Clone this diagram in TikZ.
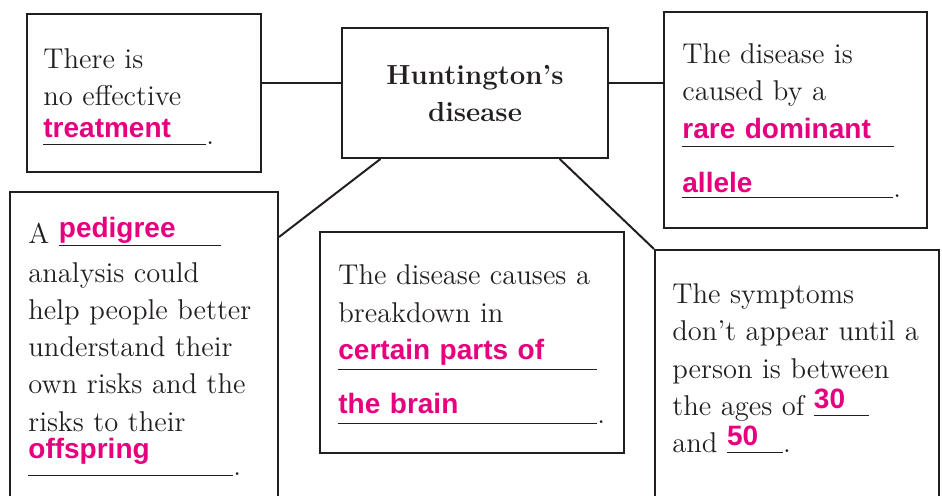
\documentclass[tikz,border=0pt]{standalone}
\usepackage{fontspec}
\usepackage{xcolor}
\usetikzlibrary{positioning, calc}
\newfontfamily\ansfont{Liberation Sans}
\definecolor{inkline}{HTML}{231F20}
\definecolor{answerpink}{HTML}{E6007E}
% blank line with the answer written on it: width, lift, drop, answer
\newcommand{\fillin}[4]{\leavevmode\rlap{\rule[-#3]{#1}{0.5pt}}\makebox[#1][l]{\raisebox{#2}{\color{answerpink}\ansfont\bfseries\fontsize{14}{18.5}\selectfont #4}}}

\begin{document}
\begin{tikzpicture}[x=0.5pt, y=-0.5pt,
    card/.style={draw=inkline, line width=1pt, inner sep=0pt, anchor=north west},
    blurb/.style={anchor=base west, inner sep=0pt, text width=150pt, align=left, text=inkline, font=\fontsize{14.3}{18.5}\selectfont},
    link/.style={draw=inkline, line width=1pt}
]
    \useasboundingbox (0,0) rectangle (942,495);
    % boxes
    \node[card, minimum width=133pt, minimum height=65pt, align=center, text=inkline, font=\fontsize{13.8}{18.5}\selectfont\bfseries] (hd) at (341,27) {Huntington’s\\disease};
    \node[card, minimum width=117pt, minimum height=79pt] (cure) at (26,13) {};
    \node[card, minimum width=131.5pt, minimum height=108pt] (cause) at (663,11) {};
    \node[card, minimum width=134pt, minimum height=159.5pt] (pedig) at (9,191) {};
    \node[card, minimum width=152pt, minimum height=110.5pt] (brain) at (319,231) {};
    \node[card, minimum width=142pt, minimum height=130.5pt] (onset) at (654,249) {};
    % texts
    \node[blurb] (cure-txt) at (43,68) {There is\\no effective\\[1pt]\fillin{81.5pt}{3.5pt}{0.3pt}{treatment}.};
    \node[blurb] (cause-txt) at (682,63) {The disease is\\caused by a\\[4.5pt]\fillin{106pt}{4pt}{0.3pt}{rare dominant}\\[7pt]\fillin{105.5pt}{2.5pt}{0.3pt}{allele}.};
    \node[blurb] (pedig-txt) at (28,243) {A \fillin{81pt}{3pt}{1.5pt}{pedigree}\\[1pt]analysis could\\help people better\\understand their\\own risks and the\\[0.5pt]risks to their\\[2.5pt]\fillin{102.5pt}{8.5pt}{0.3pt}{offspring}.};
    \node[blurb] (brain-txt) at (338,284) {The disease causes a\\[0.5pt]breakdown in\\[5pt]\fillin{129.5pt}{5pt}{0.3pt}{certain parts of}\\[8.5pt]\fillin{129.5pt}{5pt}{0.3pt}{the brain}.};
    \node[blurb] (onset-txt) at (672,303) {The symptoms\\don’t appear until a\\[0.5pt]person is between\\the ages of \fillin{27.5pt}{3.5pt}{0.3pt}{30}\\and \fillin{28pt}{3.5pt}{0.3pt}{50}.};
    % links
    \draw[link] ([yshift=5pt]cure.east) -- ([yshift=5pt]cure.east -| hd.west);
    \draw[link] ([yshift=5pt]hd.east) -- ([yshift=5pt]hd.east -| cause.west);
    \draw[link] ($(hd.south west)!0.147!(hd.south east)$) -- ([yshift=-23pt]pedig.north east);
    \draw[link] ($(hd.south west)!0.816!(hd.south east)$) -- (onset.north west);
\end{tikzpicture}
\end{document}
